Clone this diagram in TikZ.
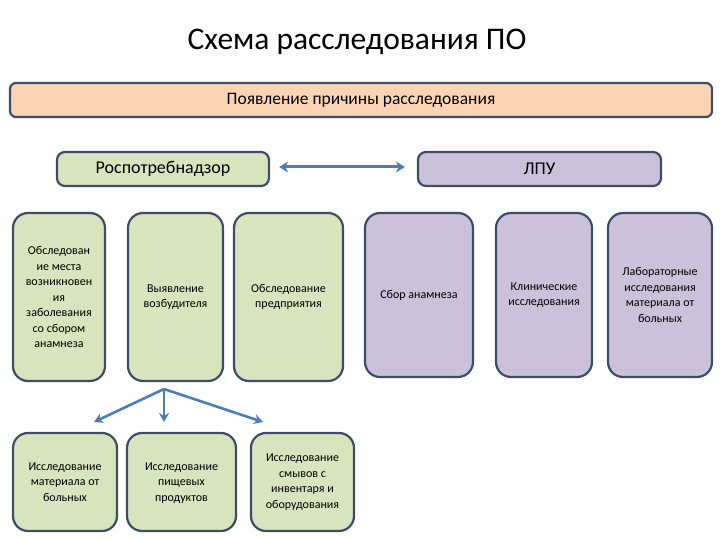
\documentclass[tikz,border=0pt]{standalone}
\usepackage{fontspec}
\setmainfont{Carlito}
\usetikzlibrary{arrows.meta}
\definecolor{bord}{HTML}{3D4D69}
\definecolor{peach}{HTML}{FBD4B4}
\definecolor{gfill}{HTML}{D7E4BD}
\definecolor{pfill}{HTML}{CCC1DA}
\definecolor{arr}{HTML}{4A7EBB}
\begin{document}
\begin{tikzpicture}[x=1pt,y=-1pt,
  base/.style={draw=bord, line width=2.2pt, align=center, inner sep=1pt},
  card/.style={base, rounded corners=15pt, font=\fontsize{12}{15.5}\selectfont},
  gcard/.style={card, fill=gfill},
  pcard/.style={card, fill=pfill},
  conn/.style={draw=arr, line width=2.6pt, -{Stealth[length=9pt,width=10pt]}},
]
\useasboundingbox (0,0) rectangle (720,540);

\node[font=\fontsize{31.5}{35}\selectfont] (title) at (357,42) {Схема расследования ПО};

\node[base, fill=peach, rounded corners=6pt, minimum width=702pt, minimum height=34pt,
      font=\fontsize{17.5}{20}\selectfont] (cause) at (361,100) {Появление причины расследования};

\node[base, fill=gfill, rounded corners=8pt, minimum width=212pt, minimum height=34pt,
      font=\fontsize{18}{21}\selectfont] (rpn) at (163,169) {Роспотребнадзор};
\node[base, fill=pfill, rounded corners=8pt, minimum width=243pt, minimum height=34pt,
      font=\fontsize{18}{21}\selectfont] (lpu) at (539.5,169) {ЛПУ};

\draw[draw=arr, line width=3pt, {Stealth[length=9pt,width=11pt]}-{Stealth[length=9pt,width=11pt]}]
  ([xshift=9pt,yshift=2pt]rpn.east) -- ([xshift=-12pt,yshift=2pt]lpu.west);

% row 2 green
\node[gcard, minimum width=92pt, minimum height=168pt] (g1) at (59,297)
  {Обследован\\ие места\\возникновен\\ия\\заболевания\\со сбором\\анамнеза};
\node[gcard, minimum width=95pt, minimum height=168pt] (g2) at (175.5,297)
  {Выявление\\возбудителя};
\node[gcard, minimum width=109pt, minimum height=168pt] (g3) at (288.5,297)
  {Обследование\\предприятия};

% row 2 purple
\node[pcard, minimum width=108pt, minimum height=164pt] (p1) at (419,295)
  {Сбор анамнеза};
\node[pcard, minimum width=96pt, minimum height=164pt] (p2) at (544,295)
  {Клинические\\исследования};
\node[pcard, minimum width=104pt, minimum height=164pt] (p3) at (660,295)
  {Лабораторные\\исследования\\материала от\\больных};

% bottom row
\node[gcard, minimum width=104pt, minimum height=98pt] (b1) at (65,482)
  {Исследование\\материала от\\больных};
\node[gcard, text depth=0pt, minimum width=109pt, minimum height=98pt] (b2) at (181.5,482)
  {Исследование\\пищевых\\продуктов};
\node[gcard, minimum width=103pt, minimum height=98pt] (b3) at (302.5,482)
  {Исследование\\смывов с\\инвентаря и\\оборудования};

\coordinate (fork) at (164,389);
\coordinate (t1) at (94,422);
\coordinate (t2) at (164,422);
\coordinate (t3) at (263,422);
\draw[conn] (fork) -- (t1);
\draw[conn] (fork) -- (t2);
\draw[conn] (fork) -- (t3);
\end{tikzpicture}
\end{document}
